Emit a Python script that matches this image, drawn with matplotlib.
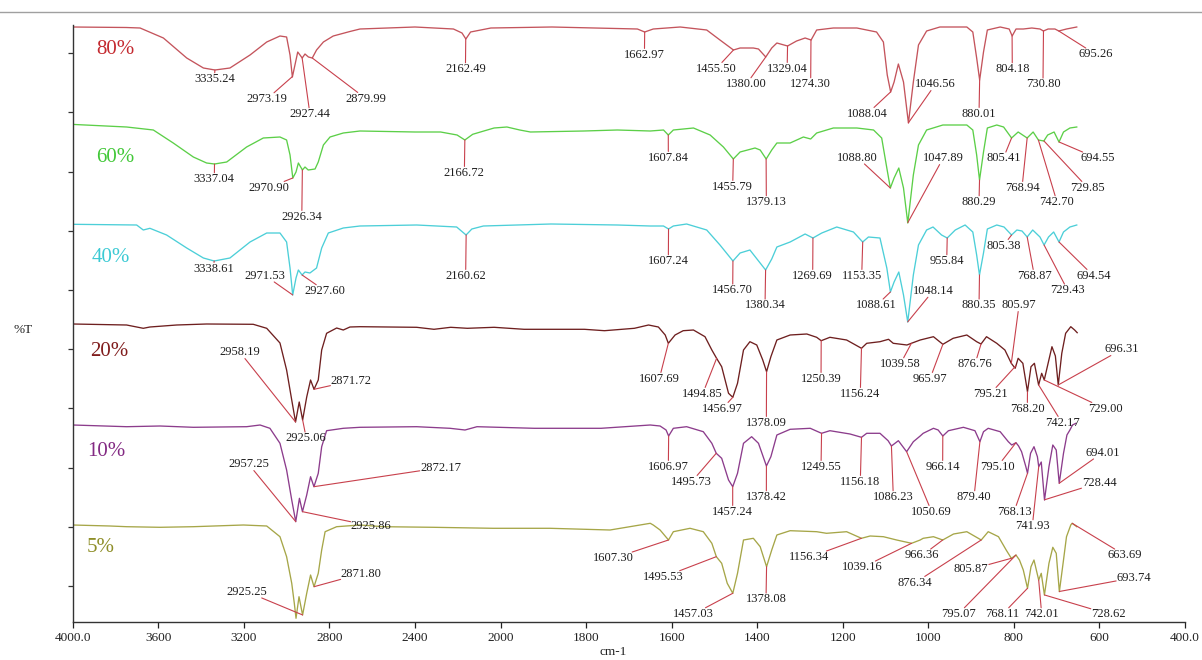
import numpy as np
import matplotlib
matplotlib.use('Agg')
import matplotlib.pyplot as plt
from matplotlib.lines import Line2D

plt.rcParams['font.family'] = ['Liberation Serif', 'DejaVu Serif']

# ---------------- data (wavenumber cm-1, %T in arbitrary stacked units) ----------------
s80 = [(4000,595),(3750,594.5),(3685,594),(3576,584),(3467,564),(3389,554),(3335,552),(3265,554),(3171,567),
       (3093,580),(3031,586),(3000,585),(2984,567),(2973,545),(2961,557),(2948,570),(2927,564),(2914,568),
       (2898,565),(2880,564),(2860,572),(2828,580),(2782,586),(2704,590.5),(2657,593),(2400,595),(2220,593),
       (2180,589),(2162,583),(2140,590),(2045,594),(1880,595),(1680,593),(1663,590),(1643,593),(1580,595),
       (1518,592),(1487,582),(1455.5,572),(1440,574),(1409,574),(1397,573),(1380,565),(1366,574),(1354,579),
       (1329,576),(1308,581),(1288,584),(1274,582),(1261,592),(1222,594),(1167,594),(1121,590),(1105,580),
       (1096,547),(1088,530),(1080,540),(1070,558),(1058,540),(1046.5,499),(1035,540),(1023,577),(1004,591),
       (973,595),(910,595),(896,590),(887,564),(880,542),(871,570),(862,592),(832,595),(811,593),(804,586),
       (795,593),(778,593),(758,594),(739,593),(731,591),(720,593),(704,593),(695,591),(677,593),(653,595)]

s60 = [(4000,497.6),(3748,495),(3623,492),(3530,479),(3436,465),(3374,459),(3337,458),(3280,460),(3187,475),
       (3109,484),(3031,485),(3000,482),(2984,467),(2971,444),(2956,450),(2945,459),(2926,452),(2914,455),
       (2899,452),(2867,453),(2852,460),(2828,477),(2797,485),(2735,489),(2657,491),(2400,490),(2280,490),
       (2203,487),(2166.7,482),(2130,487.7),(2078,491),(2030,494),(1985,495),(1955,492),(1930,490),(1805,491),
       (1727,492),(1650,491),(1619,492),(1607.8,487),(1596,492),(1549,494),(1510,487),(1479,475),(1455.8,463),
       (1440,470),(1405,474),(1393,472),(1379,463),(1366,472),(1354,479),(1323,479),(1292,485),(1275,483),
       (1261,489),(1222,494),(1167,494),(1128,492),(1109,484),(1097,454),(1088.8,434),(1080,444),(1069,454),
       (1058,434),(1048,399),(1035,447),(1023,477),(1004,492),(966,497),(910,497),(896,492),(887,467),
       (880.3,442),(871,470),(862,494),(840,497),(824,495),(805.4,484),(790,490),(769,484),(755,490),
       (742.7,482),(730,481),(721,487),(706,490),(694.5,480),(684,490),(669,494),(653,495)]

s40 = [(4000,397.7),(3701,397),(3670,392),(3639,393.7),(3561,387),(3467,374),(3389,364),(3338.6,361),
       (3265,364),(3171,380),(3093,389),(3031,389),(3000,380),(2984,354),(2971.5,327),(2956,344),(2945,352),
       (2927.6,347),(2914,350),(2891,349),(2860,354),(2836,374),(2805,389),(2735,394),(2657,396),(2392,397),
       (2205,395),(2161,387),(2134,393),(2080,396),(1882,398),(1727,397),(1650,396),(1619,396),(1607.2,393),
       (1596,396),(1565,398),(1518,392),(1487,377),(1456.7,361),(1440,369),(1417,372),(1380.3,352),(1366,363),
       (1354,375),(1323,380),(1288,388),(1269.7,384),(1249,389),(1214,395),(1175,390),(1153.4,380),(1140,385),
       (1113,384),(1097,354),(1088.6,330),(1080,340),(1069,350),(1058,327),(1048.1,300),(1035,347),(1023,377),
       (1004,392),(989,395),(969,387),(955.8,384),(937,392),(914,397),(896,390),(887,367),(880.4,347),(871,369),
       (862,393),(840,397),(823,395),(805.4,387),(793,392),(781,391),(768.9,385),(756,392),(739,385),
       (729.4,377),(719,385),(707,390),(694.5,380),(684,390),(669,395),(653,397)]

s20 = [(4000,298),(3748,297),(3670,293.7),(3639,295),(3514,297),(3374,298),(3156,297.7),(3093,293.7),
       (3031,279),(3000,252),(2976,222),(2958.2,200),(2941,220),(2925.1,202),(2906,225),(2888,242),
       (2871.7,232.7),(2852,242),(2836,272),(2813,288.7),(2766,294),(2735,292),(2704,295),(2657,295.3),
       (2392,294.7),(2311,292.7),(2233,294.7),(2155,293.7),(2030,294.7),(1945,292.7),(1804,292.7),(1757,291.3),
       (1687,293.7),(1654,297),(1631,295),(1615,287),(1607.7,278.7),(1592,287),(1573,291.3),(1549,292),
       (1522,285.3),(1506,272),(1494.9,263.7),(1483,255.3),(1467,228.7),(1457,224.7),(1446,238.7),(1432,272),
       (1417,280.3),(1401,277),(1387,262),(1378.1,250.3),(1368,265.3),(1354,282),(1323,287),(1284,288),
       (1261,284.7),(1250.4,281.3),(1230,284.7),(1191,282),(1156.2,273.7),(1144,278.7),(1113,280.3),
       (1093,282.7),(1082,278.7),(1050,277),(1039.6,278.7),(1019,282),(988,285.3),(966,277.7),(942,283.7),
       (910,287),(887,280.3),(876.8,278),(864,285.3),(840,278.7),(821,272),(806,258.7),(797,253.7),(790,263.7),
       (779,258.7),(768.2,230.3),(760,255.3),(752,258.7),(742.2,237),(735,248.7),(729,242),(720,258.7),
       (711,275.3),(703,266),(696.3,237),(688,268.7),(679,288.7),(667,295.3),(658,292),(652,289.3)]

s10 = [(4000,197),(3748,195.3),(3592,196),(3436,194.7),(3187,195.3),(3124,197),(3078,193.7),(3031,178.7),
       (3000,152),(2976,122),(2957.3,100.3),(2940,123.7),(2925.9,110.3),(2906,127),(2888,145.3),(2872.2,135.3),
       (2852,148.7),(2836,175.3),(2813,191.3),(2735,193.7),(2657,194.7),(2392,195.3),(2236,193.7),(2166,192),
       (2110,195.3),(1921,193.7),(1765,193.7),(1650,197),(1627,196),(1613,192),(1607,186),(1596,193.7),
       (1565,195.3),(1526,190.3),(1506,178.7),(1495.7,168.7),(1483,163.7),(1467,142),(1457.2,135.3),
       (1446,148.7),(1432,178.7),(1413,185.3),(1397,178.7),(1378.4,156),(1368,165.3),(1354,187),(1323,192.7),
       (1276,193.7),(1249.6,188.7),(1230,191.3),(1183,188),(1156.2,184.7),(1144,188.7),(1113,188.7),
       (1094,181.3),(1086.2,176),(1070,181.3),(1050.7,170.3),(1035,180.3),(1019,186),(1012,188.7),(988,193.7),
       (977,192),(966.1,186),(953,191.3),(918,194.7),(891,191.3),(879.4,180.3),(871,190.3),(860,193.7),
       (832,190.3),(813,180.3),(805,177),(795.1,179.3),(789,176),(782,170.3),(772,155.3),(768.1,148.7),
       (761,168.7),(753,175.3),(745,165.3),(741.9,155.3),(736,160),(728.4,122),(718,155.3),(709,177),(701,172),
       (694,138.7),(684,168.7),(676,187),(669,192),(663,197),(655,198.7)]

s05 = [(4000,97),(3826,96),(3748,95.3),(3592,94.7),(3436,95.3),(3202,97),(3093,96),(3031,85.3),(3000,65.3),
       (2976,38.7),(2964,18.7),(2956,3.7),(2942,25.3),(2925.3,7),(2906,28.7),(2888,47),(2871.8,35.3),
       (2852,48.7),(2836,72),(2820,90.3),(2766,95.3),(2657,97),(2548,95.3),(2314,94.7),(2033,93.7),(1884,93.7),
       (1744,92),(1650,98.7),(1643,97),(1627,92),(1607.3,82),(1596,90.3),(1557,93.7),(1526,90.3),(1506,78.7),
       (1495.5,65.3),(1483,58.7),(1470,38.7),(1457,28.7),(1446,48.7),(1432,82),(1409,83.7),(1393,75.3),
       (1378.1,55.3),(1366,72),(1354,87),(1323,91.3),(1261,90.3),(1238,88.7),(1191,90.3),(1156.3,83.7),
       (1136,86),(1105,85.3),(1074,82),(1039.2,78.7),(1019,82),(1012,83.7),(988,85.3),(966.4,82),(941,88),
       (910,90.3),(876.3,82),(860,90.3),(836,85.3),(818,72),(805.9,63.7),(795.1,67),(787,62),(778,52),
       (768.1,33.7),(760,55.3),(753,62),(742,42),(736,48.7),(728.6,27),(718,58.7),(709,74.7),(701,68.7),
       (693.7,30.3),(685,58.7),(677,85.3),(667,97),(663.7,98.7),(653,95.3)]

# peak labels (values printed in the chart)
peaks_80 = [3335.24, 2973.19, 2927.44, 2879.99, 2162.49, 1662.97, 1455.50, 1380.00, 1329.04, 1274.30,
            1088.04, 1046.56, 880.01, 804.18, 730.80, 695.26]
peaks_60 = [3337.04, 2970.90, 2926.34, 2166.72, 1607.84, 1455.79, 1379.13, 1088.80, 1047.89, 880.29,
            805.41, 768.94, 742.70, 729.85, 694.55]
peaks_40 = [3338.61, 2971.53, 2927.60, 2160.62, 1607.24, 1456.70, 1380.34, 1269.69, 1153.35, 1088.61,
            1048.14, 955.84, 880.35, 805.38, 768.87, 729.43, 694.54]
peaks_20 = [2958.19, 2925.06, 2871.72, 1607.69, 1494.85, 1456.97, 1378.09, 1250.39, 1156.24, 1039.58,
            965.97, 876.76, 805.97, 795.21, 768.20, 742.17, 729.00, 696.31]
peaks_10 = [2957.25, 2925.86, 2872.17, 1606.97, 1495.73, 1457.24, 1378.42, 1249.55, 1156.18, 1086.23,
            1050.69, 966.14, 879.40, 795.10, 768.13, 741.93, 728.44, 694.01]
peaks_05 = [2925.25, 2871.80, 1607.30, 1495.53, 1457.03, 1378.08, 1156.34, 1039.16, 966.36, 876.34,
            805.87, 795.07, 768.11, 742.01, 728.62, 693.74, 663.69]

names = ['80%', '60%', '40%', '20%', '10%', '5%']

xticks = [4000, 3600, 3200, 2800, 2400, 2000, 1800, 1600, 1400, 1200, 1000, 800, 600, 400]
xticklabels = ['4000.0', '3600', '3200', '2800', '2400', '2000', '1800', '1600', '1400', '1200',
               '1000', '800', '600', '400.0']

# ---------------- layout (label positions in data coords) ----------------
lab_80 = [(3338,543),(3092,523),(2891,508),(2629,523.3),(2164,553),(1663.6,567.3),(1496,553.3),(1425,538),
          (1330,553.3),(1275,538),(1142.6,508.3),(983.6,537.7),(881.5,508.3),(803.7,553),(732,537.7),
          (608.8,567.7)]
lab_60 = [(3338,443),(3084,434.3),(2929,405.3),(2169,449.3),(1607.7,464.3),(1457.3,435.3),(1378.6,420),
          (1165,464.3),(965.6,463.7),(881.5,420),(824.7,463.7),(781,434.3),(699.2,420),(627.5,434.3),
          (605,463.7)]
lab_40 = [(3342.6,353.3),(3099.5,346.3),(2819,331),(2163,346.3),(1607.7,361),(1457.3,331.7),
          (1381.7,316.7),(1270.3,346.3),(1155.7,346.3),(1120.7,316.7),(989,331),(957,361),(881.5,316.7),
          (824.7,376.3),(752.2,346.3),(674.2,331.7),(614.3,346.3)]
lab_20 = [(3218,269.7),(2908,183.7),(2698,241),(1628.8,243.3),(1527.4,228.3),(1481.5,213.3),
          (1378.6,199.3),(1250.8,243.3),(1159,228.3),(1065.4,258),(996,243.3),(890.9,258),(788,316.7),
          (855,228.3),(768.6,213.3),(687.5,199.3),(587,213.3),(547.2,272.7)]
lab_10 = [(3177,157.7),(2604.5,96),(2280.5,154.3),(1607.7,155.3),(1553,140.3),(1457.3,110.3),(1378.6,125),
          (1250.8,155.3),(1159,140.3),(1081.8,125),(992.2,110.3),(966.5,155.3),(893.2,125),(838.7,155.3),
          (799.7,110.3),(756.9,96),(601,139.3),(593.2,169.3)]
lab_05 = [(3186.6,30.3),(2650.8,48.3),(1736.3,63.7),(1619.4,45),(1548.4,8),(1379.4,22.7),(1278.2,64.7),
          (1153.4,54.7),(1014,66.7),(1031,39.3),(899.5,52.7),(929.9,8),(826.2,8),(735,8),(579.2,8),
          (519.9,44.3),(540.3,66.7)]
name_pos = [(3802,573),(3802,465),(3821,364),(3829,270.3),(3845,170.3),(3870,74.7)]

line_colors = ['#c4545c', '#5ccf48', '#4ccfd8', '#6e1f1f', '#8c3c8c', '#a6a648']
name_colors = ['#c42a30', '#42c838', '#3ccad4', '#801c1c', '#832a83', '#8e8e28']
LEAD = '#c8404c'

spectra = [s80, s60, s40, s20, s10, s05]
peaks = [peaks_80, peaks_60, peaks_40, peaks_20, peaks_10, peaks_05]
labs = [lab_80, lab_60, lab_40, lab_20, lab_10, lab_05]


# piecewise wavenumber axis (scale doubles below 2000 cm-1, as on FTIR software)
def _fwd(x):
    x = np.asarray(x, dtype=float)
    return np.where(x >= 2000, x, 2 * x - 2000)


def _inv(y):
    y = np.asarray(y, dtype=float)
    return np.where(y >= 2000, y, (y + 2000) / 2)


fig = plt.figure(figsize=(12.02, 6.6), dpi=100)
ax = fig.add_axes([72.7 / 1202, 38 / 660, 1112.3 / 1202, 597 / 660])
ax.set_xscale('function', functions=(_fwd, _inv))
ax.set_xlim(4000, 400)
ax.set_ylim(0, 597)

for spec, col in zip(spectra, line_colors):
    arr = np.array(spec, dtype=float)
    ax.plot(arr[:, 0], arr[:, 1], color=col, lw=0.95, zorder=2)

for spec, pk, lb in zip(spectra, peaks, labs):
    arr = np.array(spec, dtype=float)
    xs, ys = arr[::-1, 0], arr[::-1, 1]
    for p, (lx, ly) in zip(pk, lb):
        ty = np.interp(p, xs, ys)
        ax.annotate(f'{p:.2f}', xy=(p, ty), xytext=(lx, ly), ha='center', va='center',
                    fontsize=9, color='#1e1e1e',
                    bbox=dict(boxstyle='square,pad=0.02', fc='none', ec='none'),
                    arrowprops=dict(arrowstyle='-', color=LEAD, lw=0.8, shrinkA=0, shrinkB=0),
                    zorder=3)

for nm, (nx, ny), c in zip(names, name_pos, name_colors):
    ax.text(nx, ny, nm, color=c, fontsize=15, ha='center', va='center')

# axes styling
for s in ['top', 'right']:
    ax.spines[s].set_visible(False)
for s in ['left', 'bottom']:
    ax.spines[s].set_color('#333333')
    ax.spines[s].set_linewidth(1.0)

ax.set_xticks(xticks)
ax.set_xticklabels(xticklabels)
ax.xaxis.set_minor_locator(matplotlib.ticker.NullLocator())
ax.tick_params(axis='x', direction='out', length=4, width=0.9, labelsize=9.5, pad=3.5, colors='#222222')
ax.set_yticks([36 + 59.2 * k for k in range(10)])
ax.set_yticklabels([])
ax.tick_params(axis='y', direction='out', length=3.5, width=0.9, colors='#333333')

ax.set_xlabel('cm-1', fontsize=9.5, color='#222222')
ax.xaxis.set_label_coords(0.4858, -0.050)
ax.xaxis.label.set_va('center')
ax.set_ylabel('%T', fontsize=9.5, rotation=0, color='#222222')
ax.yaxis.set_label_coords(-0.0447, 0.489)
ax.yaxis.label.set_va('center')
ax.yaxis.label.set_ha('center')

fig.add_artist(Line2D([0, 1], [1 - 12 / 660, 1 - 12 / 660], transform=fig.transFigure,
                      color='#a0a0a0', lw=1.0))

fig.savefig('out.png', dpi=100, facecolor='white')
